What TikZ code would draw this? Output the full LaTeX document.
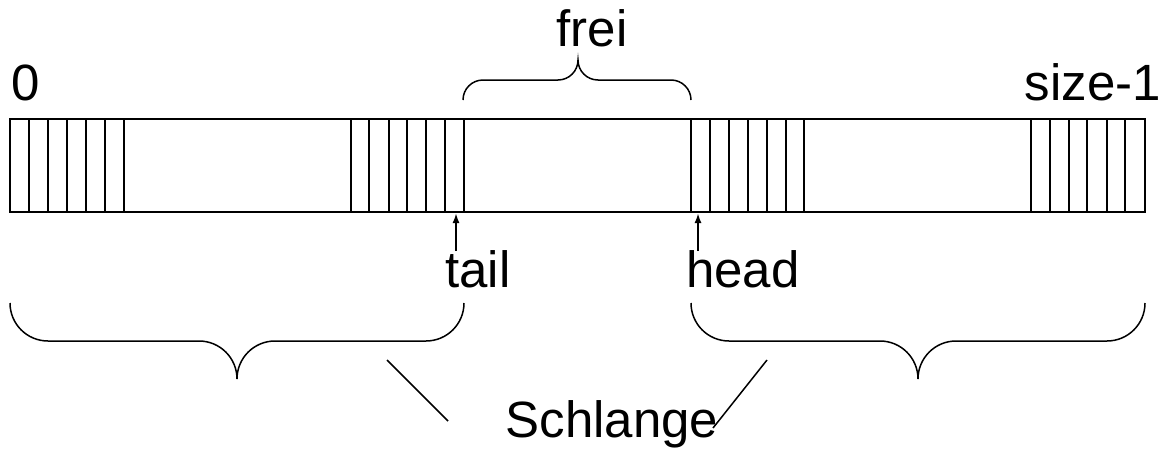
\documentclass[tikz,border=0pt]{standalone}
\usepackage{fontspec}
\setmainfont{Liberation Sans}
\usetikzlibrary{arrows.meta}
\begin{document}
\begin{tikzpicture}[x=1pt,y=-1pt,
  cellline/.style={line width=2.8pt},
  bracepath/.style={line width=1.5pt},
  label/.style={inner sep=0pt,anchor=base,font=\fontsize{51}{60}\selectfont},
  ptr/.style={line width=2.4pt,-{Latex[length=10pt,width=7pt]}},
  lead/.style={line width=1.5pt}]
\useasboundingbox (0,0) rectangle (1167,450);
% array
\draw[cellline] (10,119) rectangle (1145,212);
\foreach \x in {29,48,67,86,105,124,351,369,389,407,426,445,464,691,710,729,748,767,786,804,1031,1050,1069,1087,1107,1125}
  \draw[cellline] (\x,119) -- (\x,212);
% labels
\node[label,anchor=base west] (zero) at (11,100) {0};
\node[label,anchor=base east] (size) at (1161,100) {size-1};
\node[label] (frei) at (592,46) {frei};
\node[label] (tail) at (478,287) {tail};
\node[label] (head) at (743,287) {head};
\node[label] (schlange) at (612,437) {Schlange};
% pointers
\coordinate (tailfrom) at (456,251);
\coordinate (tailto) at (456,213);
\coordinate (headfrom) at (698,251);
\coordinate (headto) at (698,213);
\draw[ptr] (tailfrom) -- (tailto);
\draw[ptr] (headfrom) -- (headto);
% top brace (frei)
\draw[bracepath] (463,100) arc[start angle=180,end angle=270,radius=20] -- (558,80)
  arc[start angle=90,end angle=0,radius=20]
  arc[start angle=180,end angle=90,radius=20] -- (671,80)
  arc[start angle=270,end angle=360,radius=20];
% bottom left brace
\draw[bracepath] (10,303) arc[start angle=180,end angle=90,radius=38] -- (199,341)
  arc[start angle=270,end angle=360,radius=38]
  arc[start angle=180,end angle=270,radius=38] -- (426,341)
  arc[start angle=90,end angle=0,radius=38];
% bottom right brace
\draw[bracepath] (691,303) arc[start angle=180,end angle=90,radius=38] -- (880,341)
  arc[start angle=270,end angle=360,radius=38]
  arc[start angle=180,end angle=270,radius=38] -- (1107,341)
  arc[start angle=90,end angle=0,radius=38];
% leaders to Schlange
\coordinate (leadL) at (387,360);
\coordinate (leadLend) at (448,421);
\coordinate (leadR) at (767,360);
\coordinate (leadRend) at (713,428);
\draw[lead] (leadL) -- (leadLend);
\draw[lead] (leadR) -- (leadRend);
\end{tikzpicture}
\end{document}
